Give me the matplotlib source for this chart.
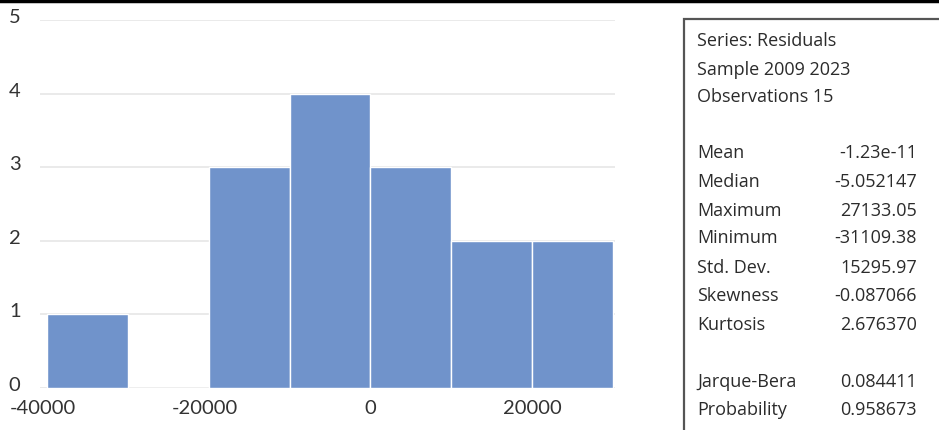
import matplotlib.pyplot as plt
from matplotlib.lines import Line2D
from matplotlib.patches import Rectangle
from matplotlib.transforms import ScaledTranslation

plt.rcParams["axes.unicode_minus"] = False

# residual histogram: bin edges and counts per bin
bin_edges = [-40000, -30000, -20000, -10000, 0, 10000, 20000, 30000]
counts = [1, 0, 3, 4, 3, 2, 2]

# descriptive statistics panel
header = ["Series: Residuals", "Sample 2009 2023", "Observations 15"]
stat_names = ["Mean", "Median", "Maximum", "Minimum", "Std. Dev.", "Skewness", "Kurtosis"]
stat_values = ["-1.23e-11", "-5.052147", "27133.05", "-31109.38", "15295.97", "-0.087066", "2.676370"]
test_names = ["Jarque-Bera", "Probability"]
test_values = ["0.084411", "0.958673"]

W, H = 939, 430
fig = plt.figure(figsize=(W / 100, H / 100), dpi=100)
fig.patch.set_facecolor("white")

ax = fig.add_axes([40 / W, 42 / H, 575 / W, 368 / H])
widths = [b - a for a, b in zip(bin_edges[:-1], bin_edges[1:])]
ax.bar(bin_edges[:-1], counts, width=widths, align="edge",
       color="#7093CB", edgecolor="white", linewidth=1, zorder=2)

ax.set_xlim(-40865, 30250)
ax.set_ylim(0, 5)
ax.set_xticks([-40000, -20000, 0, 20000])
ax.set_yticks([0, 1, 2, 3, 4, 5])
ax.grid(axis="y", color="#e6e6e6", linewidth=1.2, zorder=0)
for s in ax.spines.values():
    s.set_visible(False)
ax.tick_params(length=0, labelsize=14.5, labelcolor="#333333")
ax.tick_params(axis="x", pad=9)
ax.tick_params(axis="y", pad=14)
for lab in ax.get_xticklabels() + ax.get_yticklabels():
    lab.set_family("Lato")
# lift the count labels a little above their gridlines
lift = ScaledTranslation(0, 4 / 100, fig.dpi_scale_trans)
for lab in ax.get_yticklabels():
    lab.set_transform(lab.get_transform() + lift)
# signed labels sit a touch left of their ticks
nudge = ScaledTranslation(-4 / 100, 0, fig.dpi_scale_trans)
for lab in ax.get_xticklabels():
    if lab.get_text().startswith("-"):
        lab.set_transform(lab.get_transform() + nudge)

# black rule across the top
fig.add_artist(Line2D([0, 1], [1 - 1 / H, 1 - 1 / H], color="black", linewidth=2.5))

# statistics box, running off the right and bottom edges
fig.add_artist(Rectangle((684 / W, -0.05), 0.3, (H - 19) / H + 0.05,
                         transform=fig.transFigure, facecolor="white",
                         edgecolor="#555555", linewidth=1.6))

fs = 13
col = "#2b2b2b"
fam = "Open Sans"
xl = 697 / W
xr = 917 / W
for txt, y in zip(header, [41, 70, 97]):
    fig.text(xl, 1 - y / H, txt, fontsize=fs, color=col, va="center", family=fam)
for name, val, y in zip(stat_names, stat_values, [153, 182, 211, 238, 268, 296, 325]):
    fig.text(xl, 1 - y / H, name, fontsize=fs, color=col, va="center", family=fam)
    fig.text(xr, 1 - y / H, val, fontsize=fs, color=col, va="center", ha="right", family=fam)
for name, val, y in zip(test_names, test_values, [382, 410]):
    fig.text(xl, 1 - y / H, name, fontsize=fs, color=col, va="center", family=fam)
    fig.text(xr, 1 - y / H, val, fontsize=fs, color=col, va="center", ha="right", family=fam)

fig.savefig("out.png", dpi=100)
